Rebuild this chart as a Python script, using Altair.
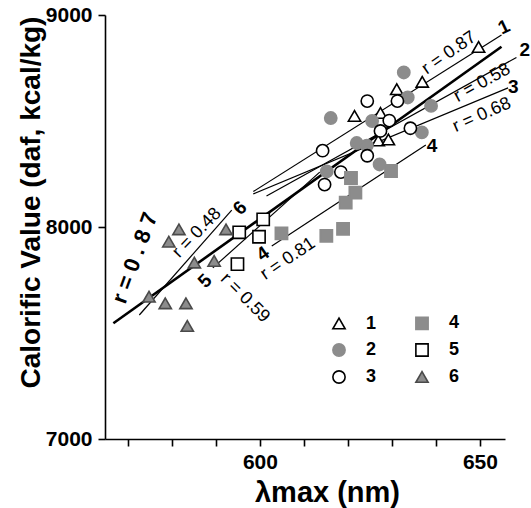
import altair as alt
import pandas as pd

F = "Liberation Sans"

# ---- data ----
g1_x = [649.7, 636.9, 631.1, 621.5, 627.4, 626.9, 629.2]
g1_y = [8849, 8685, 8650, 8524, 8538, 8408, 8413]
g2_x = [632.7, 616.1, 633.6, 638.9, 625.5, 622.0, 624.3, 636.8, 615.2, 627.2]
g2_y = [8729, 8514, 8611, 8571, 8500, 8396, 8384, 8446, 8262, 8295]
g3_x = [624.4, 631.25, 629.4, 627.4, 634.2, 614.25, 624.4, 618.4, 614.7]
g3_y = [8594, 8594, 8502, 8453, 8466, 8360, 8336, 8259, 8200]
g4_x = [604.9, 615.1, 618.9, 619.5, 621.7, 620.7, 629.8]
g4_y = [7970, 7958, 7991, 8115, 8162, 8231, 8264]
g5_x = [595.3, 600.75, 599.8, 594.9]
g5_y = [7975, 8036, 7954, 7825]
g6_x = [581.6, 579.3, 592.3, 585.1, 589.6, 574.8, 578.5, 583.2, 583.5]
g6_y = [7989, 7931, 7989, 7832, 7840, 7671, 7640, 7640, 7533]

groups = ["1", "2", "3", "4", "5", "6"]
shape_range = ["triangle-up", "circle", "circle", "square", "square", "triangle-up"]
fill_range = ["white", "#8c8c8c", "white", "#8c8c8c", "white", "#8c8c8c"]
stroke_range = ["black", "#8c8c8c", "black", "#8c8c8c", "black", "#4a4a4a"]

# regression lines: overall (thick), 1, 2, 3, 4, 5, 6
line_x1 = [566.7, 598.5, 601.5, 598.5, 602.7, 589.3, 572.6]
line_y1 = [7546, 8167, 8146, 8156, 7910, 7807, 7585]
line_x2 = [654.9, 654.9, 658.3, 656.4, 637.7, 613.6, 593.6]
line_y2 = [8850, 8906, 8800, 8656, 8387, 8259, 8080]
line_w = [2.6, 1.2, 1.2, 1.2, 1.2, 1.2, 1.2]

r_text = ["r = 0.87", "r = 0.58", "r = 0.68", "r = 0.81", "r = 0.59", "r = 0.48"]
r_x = [643.0, 650.5, 650.45, 606.4, 596.6, 585.7]
r_y = [8821, 8680, 8528, 7849, 7665, 7972]
r_angle = [325, 331, 336, 326, 45, 314]

n_text = ["1", "2", "3", "4", "4", "5", "6"]
n_x = [655.45, 660.2, 657.6, 639.1, 600.7, 587.5, 595.45]
n_y = [8943, 8835, 8660, 8382, 7873, 7745, 8090]
n_angle = [335, 0, 0, 0, 325, 315, 315]

big_text = ["r = 0 . 8 7"]
big_x = [571.6]
big_y = [7854]
big_angle = [290]

y_ticks = [7000, 8000, 9000]
x_ticks = [570, 580, 590, 600, 610, 620, 630, 640, 650]

# ---- tables ----
gx = [g1_x, g2_x, g3_x, g4_x, g5_x, g6_x]
gy = [g1_y, g2_y, g3_y, g4_y, g5_y, g6_y]
rows = []
for g, xs_, ys_ in zip(groups, gx, gy):
    for a, b in zip(xs_, ys_):
        rows.append({"x": a, "y": b, "g": g})
pts = pd.DataFrame(rows)
lines = pd.DataFrame({"x": line_x1, "y": line_y1, "x2": line_x2, "y2": line_y2, "w": line_w})
rdf = pd.DataFrame({"x": r_x, "y": r_y, "t": r_text, "a": r_angle})
ndf = pd.DataFrame({"x": n_x, "y": n_y, "t": n_text, "a": n_angle})
bdf = pd.DataFrame({"x": big_x, "y": big_y, "t": big_text, "a": big_angle})

xs = alt.Scale(domain=[564.8, 655.7], nice=False, zero=False)
ys = alt.Scale(domain=[7000, 9000], nice=False, zero=False)

x_axis = alt.Axis(values=x_ticks, labelExpr="datum.value % 50 == 0 ? datum.value : ''",
                  title="λmax (nm)", grid=False, tickSize=7, labelPadding=5,
                  labelFlush=False, titleX=222, titleY=53, titleBaseline="middle",
                  titleAlign="center", titleFontSize=29,
                  labelFontSize=21, labelFontWeight="bold", labelFont=F, labelColor="black")
y_axis = alt.Axis(values=y_ticks, format="d", title="Calorific Value (daf, kcal/kg)",
                  grid=False, tickSize=7, labelPadding=6, titleAngle=270,
                  titleX=-74, titleY=187, titleBaseline="middle", titleAlign="center",
                  titleFontSize=28,
                  labelFontSize=21, labelFontWeight="bold", labelFont=F, labelColor="black")

X = alt.X("x:Q", scale=xs, axis=x_axis)
Y = alt.Y("y:Q", scale=ys, axis=y_axis)

leg = alt.Legend(orient="none", legendX=225, legendY=299, columns=2, title=None,
                 labelFontSize=18, labelFontWeight="bold", labelFont=F,
                 symbolSize=150, symbolStrokeWidth=1.6, labelOffset=18,
                 columnPadding=35, rowPadding=7, padding=0, symbolOpacity=1)

line_layer = alt.Chart(lines).mark_rule(color="black").encode(
    x=X, y=Y, x2="x2:Q", y2="y2:Q",
    strokeWidth=alt.StrokeWidth("w:Q", scale=None))

point_layer = alt.Chart(pts).mark_point(filled=True, size=150, strokeWidth=1.6, opacity=1).encode(
    x=X, y=Y,
    shape=alt.Shape("g:N", scale=alt.Scale(domain=groups, range=shape_range), legend=leg),
    fill=alt.Fill("g:N", scale=alt.Scale(domain=groups, range=fill_range), legend=leg),
    stroke=alt.Stroke("g:N", scale=alt.Scale(domain=groups, range=stroke_range), legend=leg),
)

r_layer = alt.Chart(rdf).mark_text(font=F, fontSize=18, color="black", align="center",
                                   baseline="middle").encode(
    x=X, y=Y, text="t:N", angle=alt.Angle("a:Q", scale=None))
n_layer = alt.Chart(ndf).mark_text(font=F, fontSize=19, fontWeight="bold", color="black",
                                   align="center", baseline="middle").encode(
    x=X, y=Y, text="t:N", angle=alt.Angle("a:Q", scale=None))
b_layer = alt.Chart(bdf).mark_text(font=F, fontSize=22, fontWeight="bold", color="black",
                                   align="center", baseline="middle").encode(
    x=X, y=Y, text="t:N", angle=alt.Angle("a:Q", scale=None))

chart = alt.layer(line_layer, point_layer, r_layer, n_layer, b_layer).properties(
    width=400, height=424,
    padding={"left": 105, "top": 15, "right": 26, "bottom": 69},
    autosize=alt.AutoSizeParams(type="none"),
    background="white",
).configure_view(stroke=None).configure_axis(
    domainColor="black", domainWidth=1.6, tickColor="black", tickWidth=1.6,
    labelFont=F, labelFontSize=21, labelFontWeight="bold", labelColor="black",
    titleFont=F, titleFontWeight="bold", titleColor="black",
)

chart.save("out.html", embed_options={"renderer": "svg", "actions": False})
